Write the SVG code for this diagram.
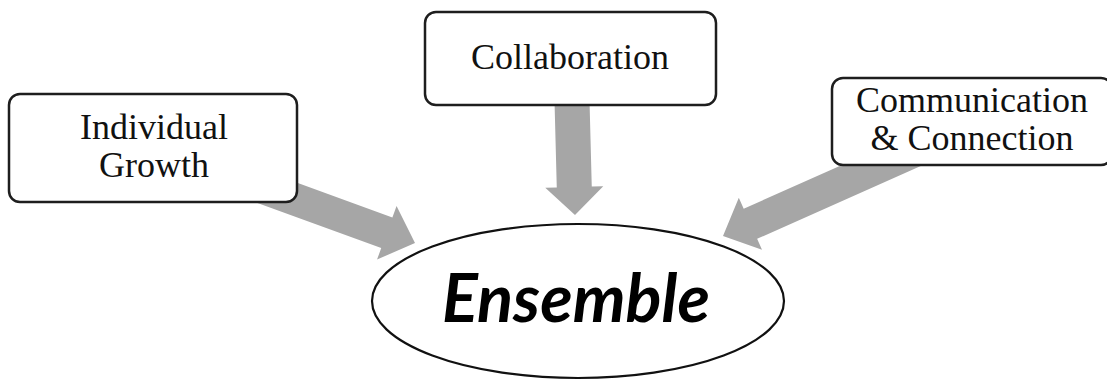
<svg xmlns="http://www.w3.org/2000/svg" width="1107" height="381" viewBox="0 0 1107 381">
<style>
.box{fill:#fff;stroke:#1e1e1e;stroke-width:2.5}
.lbl{font-family:"Liberation Serif","Times New Roman",serif;font-size:36px;fill:#111;text-anchor:middle}
.arrow{fill:#a6a6a6;stroke:none}
.ell{fill:#fff;stroke:#111;stroke-width:2.2}
.big{font-family:Lato,"Open Sans",sans-serif;font-weight:bold;font-style:italic;font-size:66px;fill:#000;text-anchor:middle}
</style>
<rect width="1107" height="381" fill="#fff"/>
<g id="connectors">
  <polygon class="arrow" transform="translate(415 243) rotate(20)" points="0,0 -30,-28.5 -30,-16.3 -190,-16.3 -190,16.3 -30,16.3 -30,28.5"/>
  <polygon class="arrow" transform="translate(575 215) rotate(88.5)" points="0,0 -28,-29 -28,-17.5 -125,-17.5 -125,17.5 -28,17.5 -28,29"/>
  <polygon class="arrow" transform="translate(723 236) rotate(156)" points="0,0 -30,-28.5 -30,-16.5 -230,-16.5 -230,16.5 -30,16.5 -30,28.5"/>
</g>
<g id="individual-growth">
  <rect class="box" x="9" y="94" width="288" height="108" rx="11"/>
  <text class="lbl" x="154" y="139">Individual</text>
  <text class="lbl" x="154" y="177">Growth</text>
</g>
<g id="collaboration">
  <rect class="box" x="425" y="12" width="291" height="93" rx="11"/>
  <text class="lbl" x="570" y="69">Collaboration</text>
</g>
<g id="communication-connection">
  <rect class="box" x="832" y="78" width="280" height="87" rx="11"/>
  <text class="lbl" x="972" y="112">Communication</text>
  <text class="lbl" x="972" y="150">&amp; Connection</text>
</g>
<g id="ensemble">
  <ellipse class="ell" cx="578" cy="301" rx="206" ry="77"/>
  <text class="big" x="576" y="322" textLength="268" lengthAdjust="spacingAndGlyphs">Ensemble</text>
</g>
</svg>
